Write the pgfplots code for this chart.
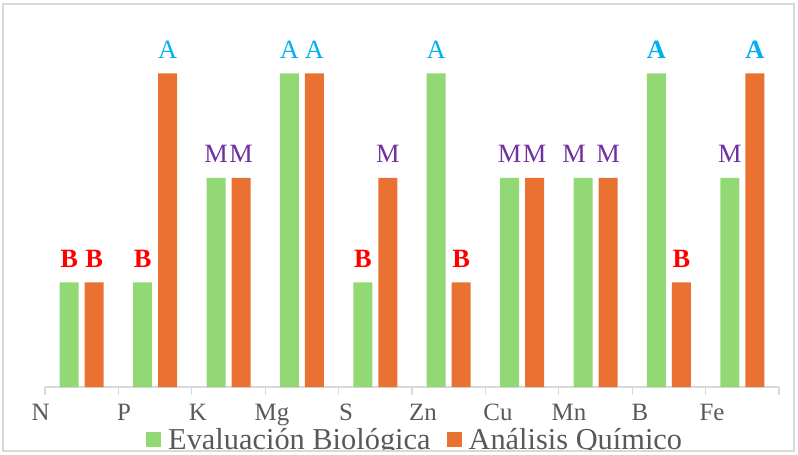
\documentclass[border=0pt]{standalone}
\usepackage{pgfplots}
\pgfplotsset{compat=1.18}
\usepackage{pgfplotstable}
\usepackage{fontspec}
\setmainfont{Liberation Serif}
\definecolor{cgreen}{RGB}{146,216,116}
\definecolor{corange}{RGB}{233,113,50}
\definecolor{cred}{RGB}{255,0,0}
\definecolor{cpurple}{RGB}{112,48,160}
\definecolor{ccyan}{RGB}{0,176,240}
\definecolor{cgrid}{RGB}{217,217,217}
\definecolor{ctext}{RGB}{89,89,89}
\newcommand{\labB}{\textcolor{cred}{\bfseries B}}
\newcommand{\labM}{\textcolor{cpurple}{M}}
\newcommand{\labMl}{\makebox[0pt][c]{\hspace{-18bp}\textcolor{cpurple}{M}}}
\newcommand{\labA}{\textcolor{ccyan}{A}}
\newcommand{\labAb}{\textcolor{ccyan}{\bfseries A}}
\pgfplotstableread{
x y lab
0 1 B
1 1 B
2 2 M
3 3 A
4 1 B
5 3 A
6 2 M
7 2 Ml
8 3 Ab
9 2 M
}\bio
\pgfplotstableread{
x y lab
0 1 B
1 3 A
2 2 M
3 3 A
4 2 M
5 1 B
6 2 M
7 2 M
8 1 B
9 3 Ab
}\quim
\begin{document}
\begin{tikzpicture}
\useasboundingbox (-45bp,-68bp) rectangle (753bp,387bp);
\begin{scope}
\clip (-42bp,-64bp) rectangle (749bp,383bp);
\begin{axis}[
  scale only axis, width=734bp, height=366bp,
  xmin=-0.5, xmax=9.5, ymin=0, ymax=3.5,
  ybar,
  axis y line=none, axis x line=bottom,
  x axis line style={draw=cgrid, line width=1.2bp, -},
  xtick={-0.5,0.576,1.584,2.593,3.601,4.650,5.672,6.639,7.606,8.587},
  xticklabels={\makebox[0pt][c]{\hspace{-9bp}N},P,K,Mg,S,Zn,Cu,Mn,B,Fe},
  major tick length=0pt,
  minor xtick={-0.5,0.5,...,9.5},
  minor tick length=8bp,
  xtick align=outside,
  every minor tick/.append style={draw=cgrid, line width=1.2bp},
  xticklabel style={font=\fontsize{25}{25}\selectfont, text=ctext, anchor=base, yshift=-33bp, inner sep=0pt},
  every node near coord/.append style={font=\fontsize{26.5}{26.5}\selectfont, anchor=base, yshift=15bp, inner sep=0pt},
  legend style={draw=none, fill=none, at={(rel axis cs:0.1376,-0.1434)}, anchor=west,
    legend columns=2, font=\fontsize{30.5}{30.5}\selectfont, text=ctext, inner sep=0pt,
    /tikz/every even column/.append style={column sep=14bp}},
  legend image code/.code={\fill[#1] (0bp,-7.5bp) rectangle (15bp,7.5bp); \path (20bp,0bp);},
]
\addplot[fill=cgreen, draw=none, bar width=19bp, bar shift=-12.5bp,
  point meta=explicit symbolic,
  nodes near coords={\csname lab\pgfplotspointmeta\endcsname}]
  table[x=x, y=y, meta=lab]{\bio};
\addlegendentry{Evaluación Biológica}
\addplot[fill=corange, draw=none, bar width=19bp, bar shift=12.5bp,
  point meta=explicit symbolic,
  nodes near coords={\csname lab\pgfplotspointmeta\endcsname}]
  table[x=x, y=y, meta=lab]{\quim};
\addlegendentry{Análisis Químico}
\end{axis}
\end{scope}
\draw[cgrid, line width=1.5bp] (-42bp,-64bp) rectangle (749bp,383bp);
\end{tikzpicture}
\end{document}
